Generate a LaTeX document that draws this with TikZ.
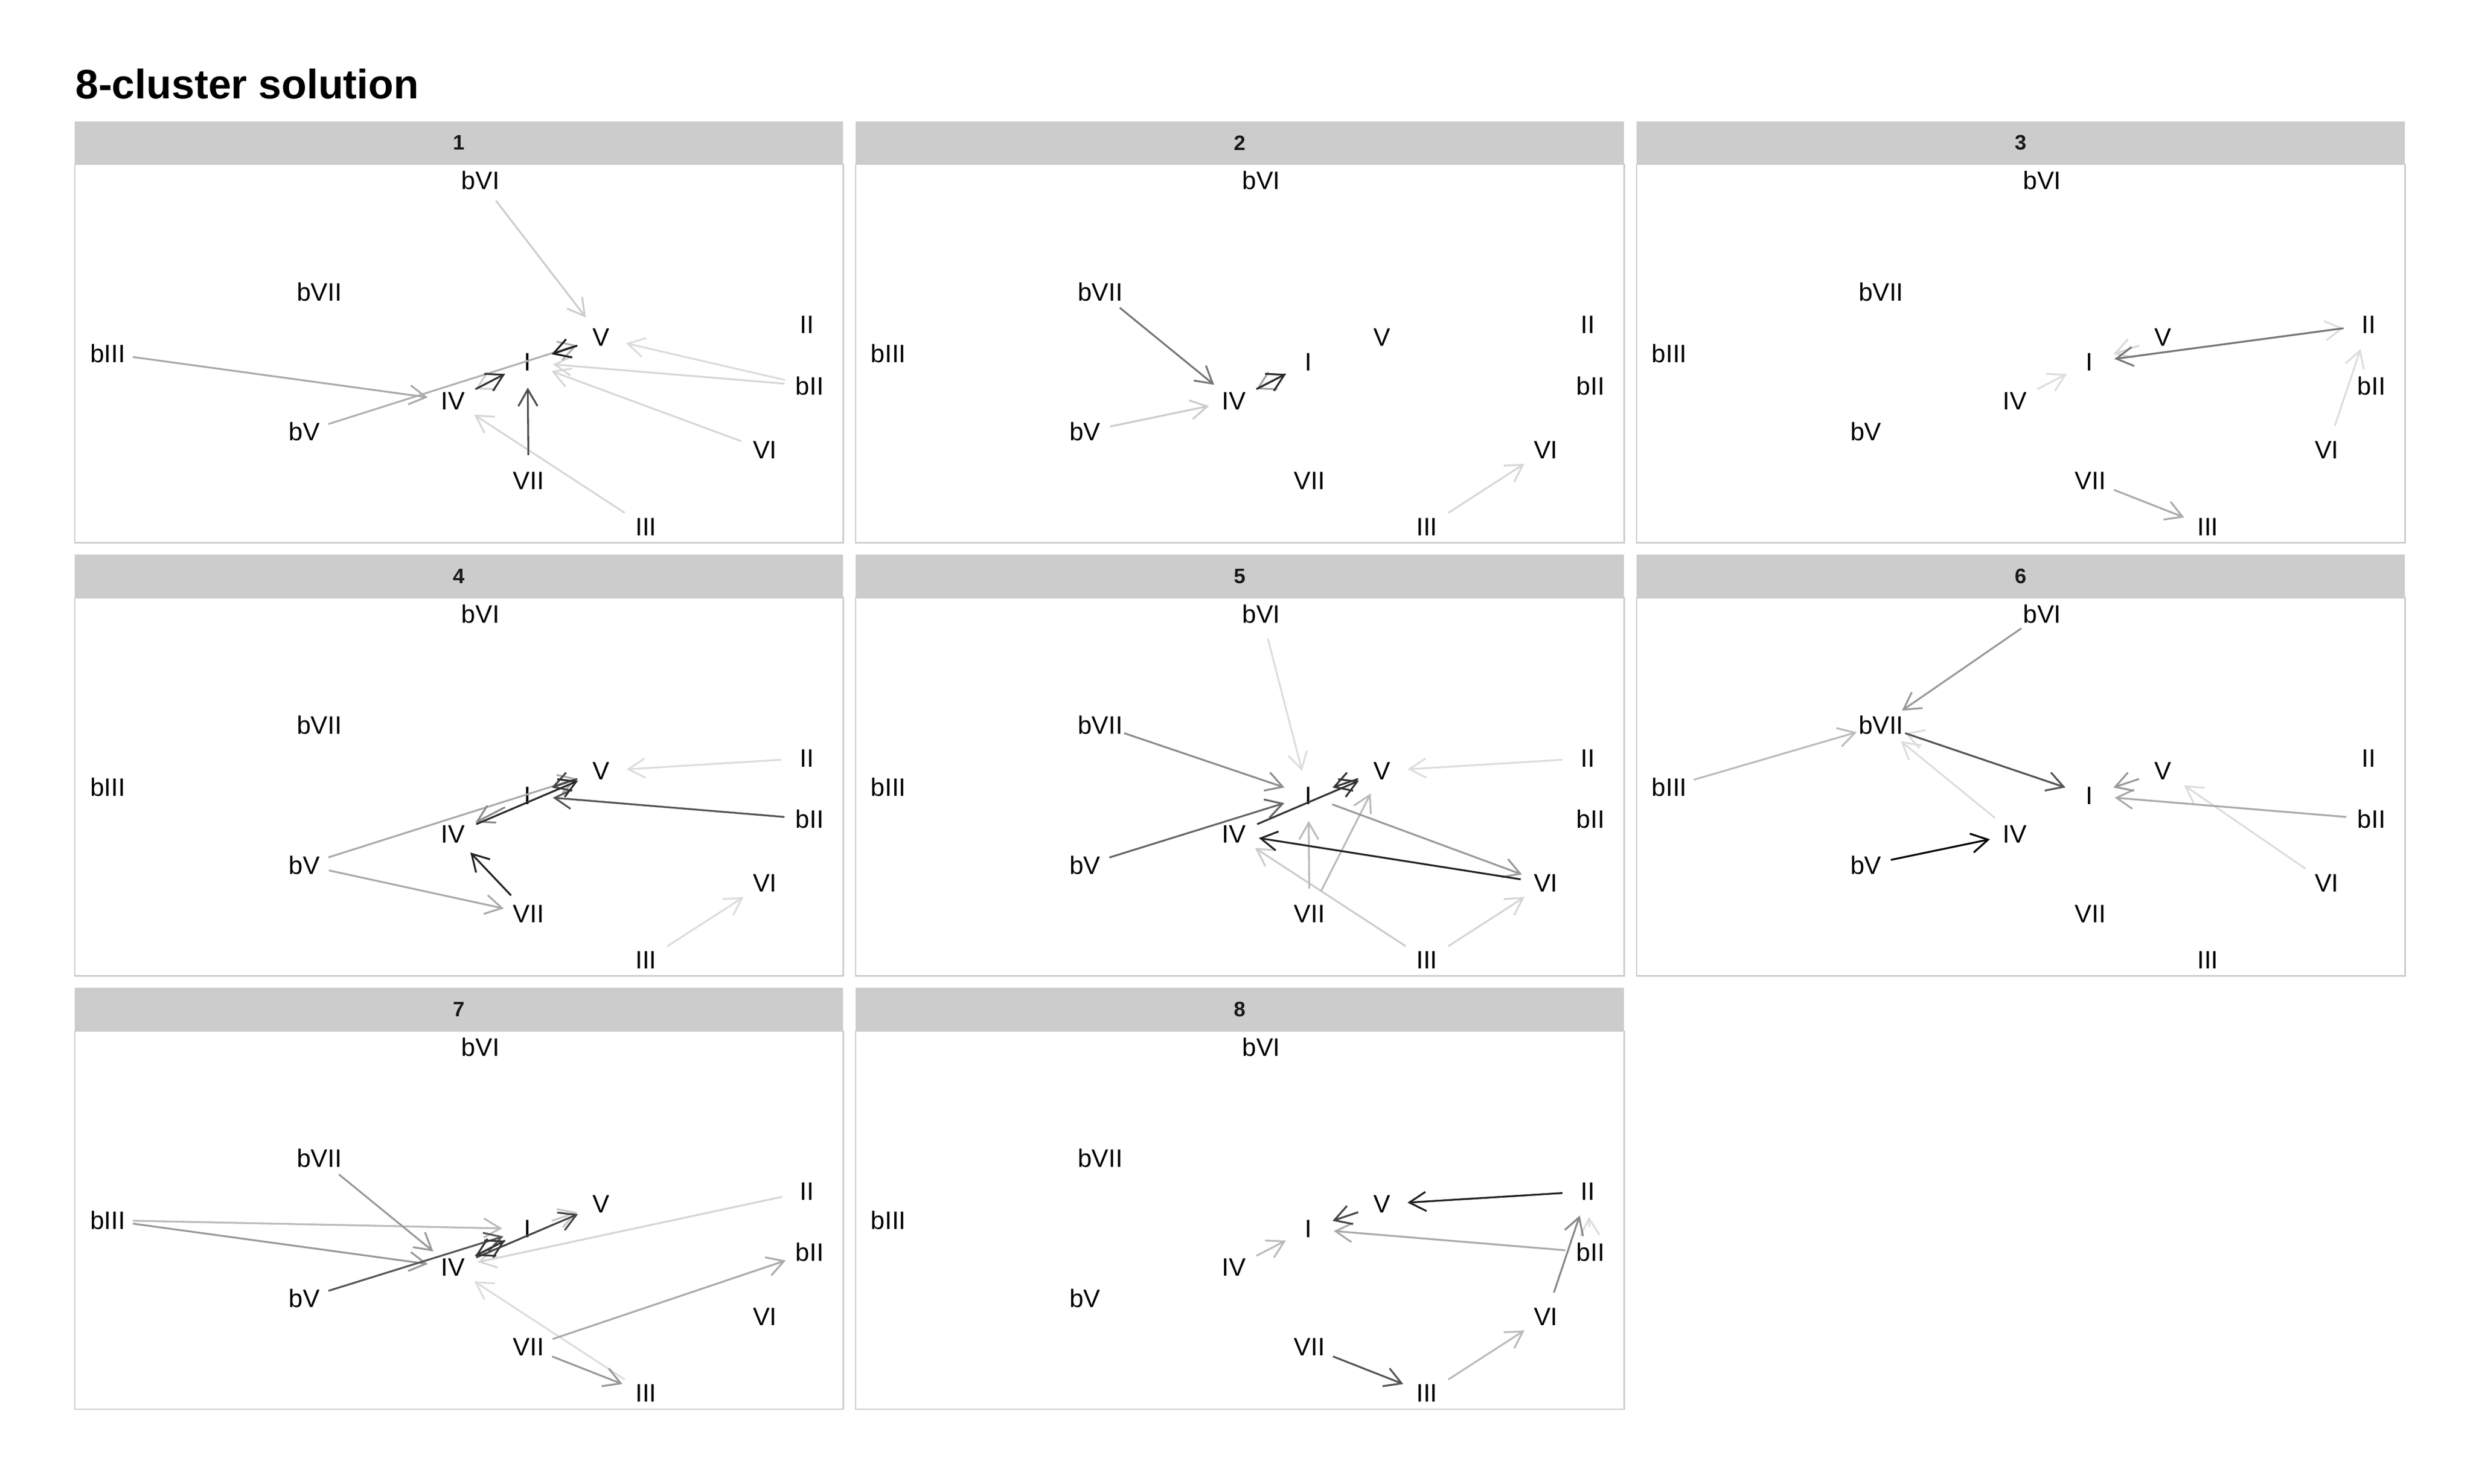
\documentclass[tikz,border=0pt]{standalone}
\usepackage{fontspec}
\setmainfont{Liberation Sans}
\usetikzlibrary{arrows.meta}
\definecolor{stripcol}{HTML}{CCCCCC}
\definecolor{framecol}{HTML}{CCCCCC}
\tikzset{
  chord/.style={circle, minimum size=32pt, inner sep=0pt, outer sep=0pt,
    font=\fontsize{15.9}{18}\selectfont, text=black},
  striptext/.style={inner sep=0pt, font=\bfseries\fontsize{13.2}{15}\selectfont, text=black!90},
  titletext/.style={inner sep=0pt, anchor=base west, font=\bfseries\fontsize{26}{30}\selectfont},
  arr/.style={draw={rgb,255:red,#1;green,#1;blue,#1}, line width=1.15pt,
    line cap=butt, line join=miter,
    -{Straight Barb[length=10.5pt, width=12.1pt]}}
}
\newcommand{\chordpanel}[4]{%
  \begin{scope}[shift={(#2,#3)}]
    \fill[stripcol] (0,0) rectangle (484.8,27.2);
    \draw[framecol, line width=0.9pt] (0,27.2) rectangle (484.8,265.8);
    \node[striptext] (#1-strip) at (242.4,13.6) {#4};
    \node[chord] (#1-bVI)  at (256.0,37.4)  {bVI};
    \node[chord] (#1-bVII) at (154.3,107.5) {bVII};
    \node[chord] (#1-bIII) at (20.8,146.5)  {bIII};
    \node[chord] (#1-II)   at (461.9,128.4) {II};
    \node[chord] (#1-V)    at (332.2,136.4) {V};
    \node[chord] (#1-I)    at (285.7,152.0) {I};
    \node[chord] (#1-bII)  at (463.7,166.8) {bII};
    \node[chord] (#1-IV)   at (238.6,176.3) {IV};
    \node[chord] (#1-bV)   at (144.8,195.8) {bV};
    \node[chord] (#1-VI)   at (435.4,207.3) {VI};
    \node[chord] (#1-VII)  at (286.3,226.6) {VII};
    \node[chord] (#1-III)  at (360.4,255.7) {III};
  \end{scope}}
\newcommand{\ar}[4]{\draw[arr=#2] (#1-#3) -- (#1-#4);}
\begin{document}
\begin{tikzpicture}[x=1pt, y=-1pt]
\useasboundingbox (0,0) rectangle (1560,936);
\fill[white] (0,0) rectangle (1560,936);
\node[titletext] (title) at (47.4,62.4) {8-cluster solution};

\chordpanel{p1}{47.1}{76.5}{1}
\chordpanel{p2}{539.7}{76.5}{2}
\chordpanel{p3}{1032.3}{76.5}{3}
\chordpanel{p4}{47.1}{349.8}{4}
\chordpanel{p5}{539.7}{349.8}{5}
\chordpanel{p6}{1032.3}{349.8}{6}
\chordpanel{p7}{47.1}{623.1}{7}
\chordpanel{p8}{539.7}{623.1}{8}

% panel 1
\ar{p1}{220}{bII}{V}
\ar{p1}{215}{bII}{I}
\ar{p1}{215}{VI}{I}
\ar{p1}{215}{III}{IV}
\ar{p1}{208}{I}{IV}
\ar{p1}{205}{bVI}{V}
\ar{p1}{176}{bV}{V}
\ar{p1}{170}{bIII}{IV}
\ar{p1}{77}{VII}{I}
\ar{p1}{51}{IV}{I}
\ar{p1}{26}{V}{I}
% panel 2
\ar{p2}{215}{III}{VI}
\ar{p2}{204}{bV}{IV}
\ar{p2}{160}{I}{IV}
\ar{p2}{119}{bVII}{IV}
\ar{p2}{42}{IV}{I}
% panel 3
\ar{p3}{221}{I}{II}
\ar{p3}{221}{IV}{I}
\ar{p3}{216}{V}{I}
\ar{p3}{221}{VI}{II}
\ar{p3}{170}{VII}{III}
\ar{p3}{119}{II}{I}
% panel 4
\ar{p4}{221}{II}{V}
\ar{p4}{221}{III}{VI}
\ar{p4}{170}{bV}{V}
\ar{p4}{170}{bV}{VII}
\ar{p4}{138}{I}{IV}
\ar{p4}{85}{bII}{I}
\ar{p4}{68}{V}{I}
\ar{p4}{42}{IV}{V}
\ar{p4}{34}{VII}{IV}
% panel 5
\ar{p5}{221}{bVI}{I}
\ar{p5}{221}{II}{V}
\ar{p5}{213}{III}{VI}
\ar{p5}{204}{III}{IV}
\ar{p5}{187}{VII}{I}
\ar{p5}{187}{VII}{V}
\ar{p5}{153}{I}{VI}
\ar{p5}{140}{bVII}{I}
\ar{p5}{102}{bV}{I}
\ar{p5}{51}{IV}{V}
\ar{p5}{51}{V}{I}
\ar{p5}{34}{VI}{IV}
% panel 6
\ar{p6}{221}{I}{bVII}
\ar{p6}{221}{IV}{bVII}
\ar{p6}{221}{VI}{V}
\ar{p6}{187}{bIII}{bVII}
\ar{p6}{170}{bII}{I}
\ar{p6}{153}{bVI}{bVII}
\ar{p6}{153}{V}{I}
\ar{p6}{85}{bVII}{I}
\ar{p6}{0}{bV}{IV}
% panel 7
\ar{p7}{221}{III}{IV}
\ar{p7}{213}{II}{IV}
\ar{p7}{200}{I}{V}
\ar{p7}{187}{bIII}{I}
\ar{p7}{170}{VII}{bII}
\ar{p7}{153}{bIII}{IV}
\ar{p7}{153}{bVII}{IV}
\ar{p7}{153}{VII}{III}
\ar{p7}{85}{bV}{I}
\ar{p7}{68}{IV}{V}
\ar{p7}{51}{IV}{I}
\ar{p7}{51}{I}{IV}
% panel 8
\ar{p8}{221}{bII}{II}
\ar{p8}{187}{III}{VI}
\ar{p8}{187}{IV}{I}
\ar{p8}{170}{bII}{I}
\ar{p8}{136}{VI}{II}
\ar{p8}{85}{VII}{III}
\ar{p8}{68}{V}{I}
\ar{p8}{34}{II}{V}
\end{tikzpicture}
\end{document}
